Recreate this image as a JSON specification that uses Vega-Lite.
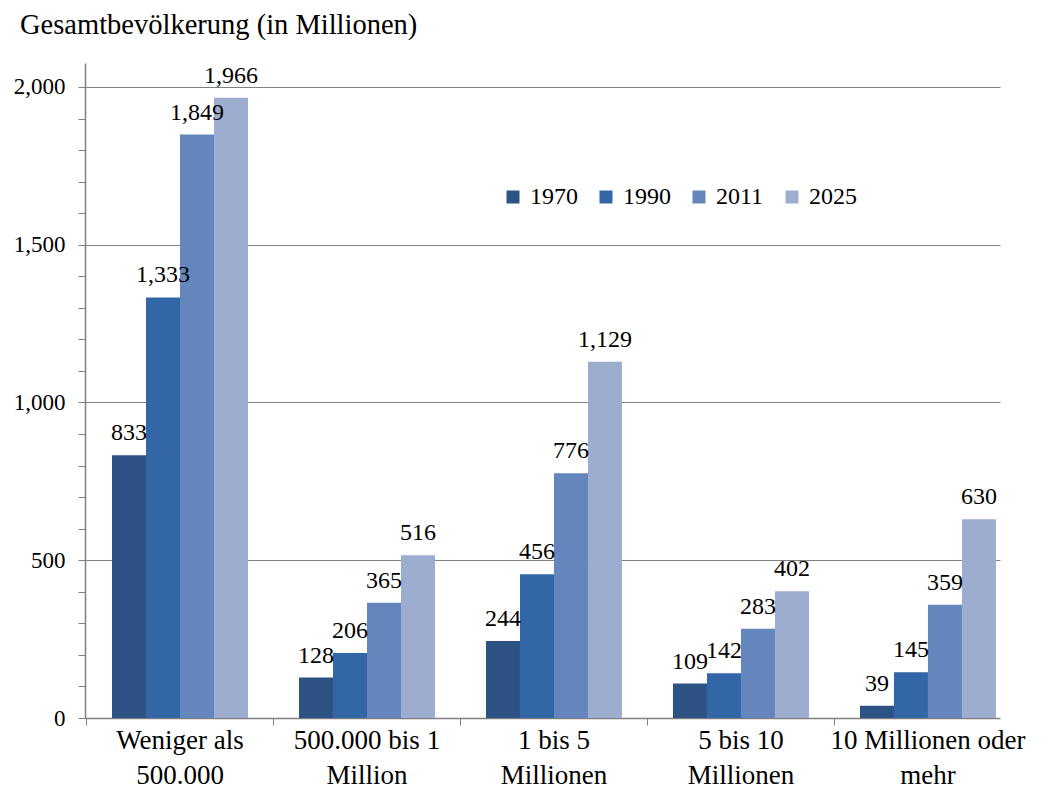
{
  "$schema": "https://vega.github.io/schema/vega-lite/v6.json",
  "width": 915,
  "height": 655,
  "autosize": {"type": "none"},
  "padding": {"left": 85, "top": 63, "right": 53, "bottom": 78},
  "background": "white",
  "title": {
    "text": "Gesamtbevölkerung (in Millionen)",
    "font": "Liberation Serif",
    "fontSize": 28.5,
    "fontWeight": "normal",
    "color": "black",
    "anchor": "start",
    "frame": "group",
    "dx": -65,
    "offset": 24
  },
  "config": {
    "view": {"stroke": null},
    "font": "Liberation Serif",
    "text": {"font": "Liberation Serif"},
    "legend": {"labelFont": "Liberation Serif"},
    "axis": {"labelFont": "Liberation Serif"}
  },
  "data": {
    "values": [
      {"groesse": "Weniger als|500.000", "jahr": "1970", "wert": 833},
      {"groesse": "Weniger als|500.000", "jahr": "1990", "wert": 1333},
      {"groesse": "Weniger als|500.000", "jahr": "2011", "wert": 1849},
      {"groesse": "Weniger als|500.000", "jahr": "2025", "wert": 1966},
      {"groesse": "500.000 bis 1|Million", "jahr": "1970", "wert": 128},
      {"groesse": "500.000 bis 1|Million", "jahr": "1990", "wert": 206},
      {"groesse": "500.000 bis 1|Million", "jahr": "2011", "wert": 365},
      {"groesse": "500.000 bis 1|Million", "jahr": "2025", "wert": 516},
      {"groesse": "1 bis 5|Millionen", "jahr": "1970", "wert": 244},
      {"groesse": "1 bis 5|Millionen", "jahr": "1990", "wert": 456},
      {"groesse": "1 bis 5|Millionen", "jahr": "2011", "wert": 776},
      {"groesse": "1 bis 5|Millionen", "jahr": "2025", "wert": 1129},
      {"groesse": "5 bis 10|Millionen", "jahr": "1970", "wert": 109},
      {"groesse": "5 bis 10|Millionen", "jahr": "1990", "wert": 142},
      {"groesse": "5 bis 10|Millionen", "jahr": "2011", "wert": 283},
      {"groesse": "5 bis 10|Millionen", "jahr": "2025", "wert": 402},
      {"groesse": "10 Millionen oder|mehr", "jahr": "1970", "wert": 39},
      {"groesse": "10 Millionen oder|mehr", "jahr": "1990", "wert": 145},
      {"groesse": "10 Millionen oder|mehr", "jahr": "2011", "wert": 359},
      {"groesse": "10 Millionen oder|mehr", "jahr": "2025", "wert": 630}
    ]
  },
  "encoding": {
    "x": {
      "field": "groesse",
      "type": "nominal",
      "sort": ["Weniger als|500.000", "500.000 bis 1|Million", "1 bis 5|Millionen", "5 bis 10|Millionen", "10 Millionen oder|mehr"],
      "scale": {"paddingInner": 0.2727, "paddingOuter": 0.083, "align": 0.87},
      "axis": {
        "title": null,
        "labelAngle": 0,
        "labelExpr": "split(datum.label, '|')",
        "labelFont": "Liberation Serif",
        "labelFontSize": 27,
        "labelLineHeight": 35,
        "labelColor": "black",
        "labelPadding": 2,
        "labelLimit": 400,
        "labelOverlap": false,
        "bandPosition": -0.1875,
        "tickSize": 7,
        "tickColor": "#808080",
        "domainColor": "#808080",
        "domainWidth": 1.5,
        "grid": false
      }
    },
    "xOffset": {"field": "jahr", "type": "nominal", "scale": {"paddingInner": 0, "paddingOuter": 0}},
    "y": {
      "field": "wert",
      "type": "quantitative",
      "scale": {"domain": [0, 2076], "nice": false, "zero": true},
      "axis": {
        "title": null,
        "values": [0, 100, 200, 300, 400, 500, 600, 700, 800, 900, 1000, 1100, 1200, 1300, 1400, 1500, 1600, 1700, 1800, 1900, 2000],
        "labelExpr": "datum.value % 500 === 0 ? format(datum.value, ',') : ''",
        "labelFont": "Liberation Serif",
        "labelFontSize": 23,
        "labelColor": "black",
        "labelPadding": 13,
        "tickSize": 7,
        "tickColor": "#808080",
        "domainColor": "#808080",
        "domainWidth": 1.5,
        "grid": true,
        "gridColor": "#808080",
        "gridWidth": 1.2,
        "gridOpacity": {"condition": {"test": "datum.value % 500 === 0 && datum.value > 0", "value": 1}, "value": 0}
      }
    }
  },
  "layer": [
    {
      "mark": {"type": "bar"},
      "encoding": {
        "color": {
          "field": "jahr",
          "type": "nominal",
          "scale": {"domain": ["1970", "1990", "2011", "2025"], "range": ["#2d5384", "#3366a6", "#6586bd", "#9cadd0"]},
          "legend": {
            "title": null,
            "orient": "none",
            "direction": "horizontal",
            "legendX": 416,
            "legendY": 122,
            "symbolType": "square",
            "symbolSize": 169,
            "symbolStrokeWidth": 0,
            "labelFont": "Liberation Serif",
            "labelFontSize": 24,
            "labelColor": "black",
            "labelOffset": 5,
            "columnPadding": 16
          }
        }
      }
    },
    {
      "mark": {"type": "text", "font": "Liberation Serif", "fontSize": 24, "color": "black", "baseline": "alphabetic", "dy": -15},
      "encoding": {
        "text": {"field": "wert", "type": "quantitative", "format": ","}
      }
    }
  ]
}
